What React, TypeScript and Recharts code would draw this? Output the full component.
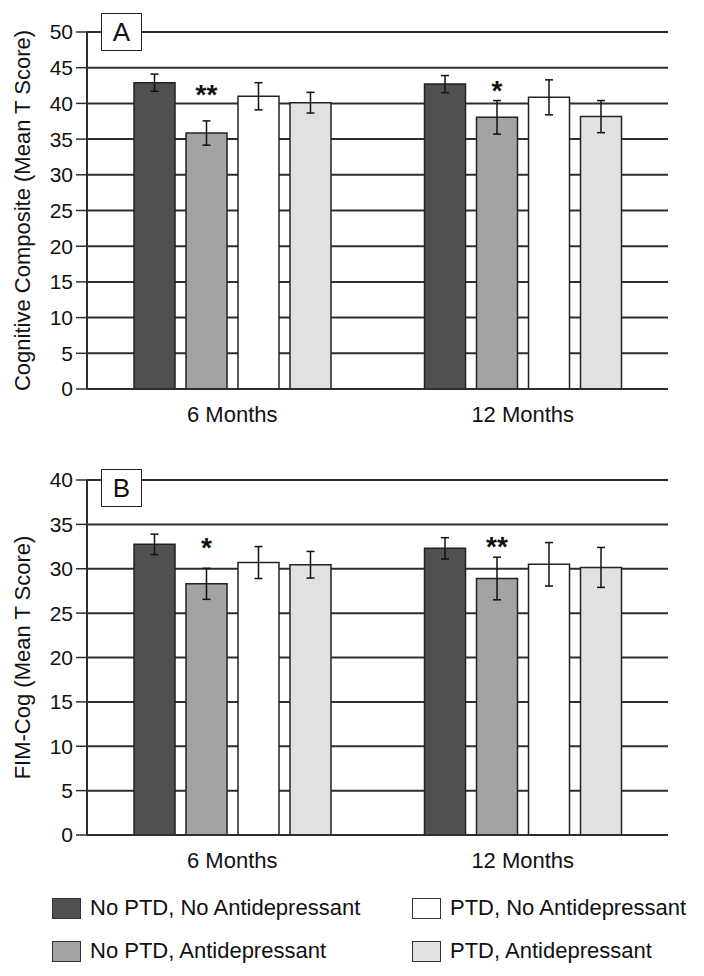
import React from 'react';
import { BarChart, Bar, XAxis, YAxis, CartesianGrid, ErrorBar, LabelList } from 'recharts';

const FONT = '"Liberation Sans", Arial, Helvetica, sans-serif';

const categories = ['6 Months', '12 Months'];
const seriesNames = [
  'No PTD, No Antidepressant',
  'No PTD, Antidepressant',
  'PTD, No Antidepressant',
  'PTD, Antidepressant',
];
const seriesColors = ['#505050', '#a3a3a3', '#ffffff', '#e1e1e1'];

// Panel A: Cognitive Composite (Mean T Score)
const cogNoPtdNoAd = [42.9, 42.7];
const cogNoPtdNoAdErr = [1.2, 1.2];
const cogNoPtdAd = [35.85, 38.05];
const cogNoPtdAdErr = [1.7, 2.35];
const cogPtdNoAd = [41.0, 40.85];
const cogPtdNoAdErr = [1.9, 2.45];
const cogPtdAd = [40.1, 38.15];
const cogPtdAdErr = [1.45, 2.25];
const cogSig = ['**', '*'];
const cogSigLevel = [42.2, 42.7];
const cogTicks = [0, 5, 10, 15, 20, 25, 30, 35, 40, 45, 50];

// Panel B: FIM-Cog (Mean T Score)
const fimNoPtdNoAd = [32.75, 32.3];
const fimNoPtdNoAdErr = [1.15, 1.2];
const fimNoPtdAd = [28.3, 28.9];
const fimNoPtdAdErr = [1.75, 2.4];
const fimPtdNoAd = [30.7, 30.5];
const fimPtdNoAdErr = [1.8, 2.45];
const fimPtdAd = [30.45, 30.15];
const fimPtdAdErr = [1.5, 2.25];
const fimSig = ['*', '**'];
const fimSigLevel = [33.1, 33.25];
const fimTicks = [0, 5, 10, 15, 20, 25, 30, 35, 40];

type Row = {
  cat: string;
  v0: number; e0: number;
  v1: number; e1: number;
  v2: number; e2: number;
  v3: number; e3: number;
  sig: string; sigLevel: number;
};

function buildRows(
  vals: number[][],
  errs: number[][],
  sig: string[],
  sigLevel: number[]
): Row[] {
  return categories.map((cat, i) => ({
    cat,
    v0: vals[0][i], e0: errs[0][i],
    v1: vals[1][i], e1: errs[1][i],
    v2: vals[2][i], e2: errs[2][i],
    v3: vals[3][i], e3: errs[3][i],
    sig: sig[i],
    sigLevel: sigLevel[i],
  }));
}

const rowsA = buildRows(
  [cogNoPtdNoAd, cogNoPtdAd, cogPtdNoAd, cogPtdAd],
  [cogNoPtdNoAdErr, cogNoPtdAdErr, cogPtdNoAdErr, cogPtdAdErr],
  cogSig,
  cogSigLevel
);
const rowsB = buildRows(
  [fimNoPtdNoAd, fimNoPtdAd, fimPtdNoAd, fimPtdAd],
  [fimNoPtdNoAdErr, fimNoPtdAdErr, fimPtdNoAdErr, fimPtdAdErr],
  fimSig,
  fimSigLevel
);

const makeStarLabel = (rows: Row[]) => (props: any) => {
  const vb = props.viewBox || props;
  const x = Number(props.x ?? vb.x);
  const y = Number(props.y ?? vb.y);
  const w = Number(props.width ?? vb.width);
  const h = Number(props.height ?? vb.height);
  const row = rows[props.index];
  if (!row || !row.sig || !isFinite(x) || !isFinite(h) || h === 0) return null;
  const base = y + h;
  const cy = base - (row.sigLevel * h) / row.v1;
  return (
    <text
      x={x + w / 2}
      y={cy + 16}
      textAnchor="middle"
      fontSize={28}
      fontWeight="bold"
      fill="#111"
      fontFamily={FONT}
    >
      {row.sig}
    </text>
  );
};

const makeYTitle = (title: string) => (props: any) => {
  const vb = props.viewBox || {};
  const cy = Number(vb.y) + Number(vb.height) / 2;
  const cx = 22;
  return (
    <text
      x={cx}
      y={cy}
      transform={`rotate(-90 ${cx} ${cy})`}
      textAnchor="middle"
      dominantBaseline="central"
      fontSize={22}
      fill="#111"
      fontFamily={FONT}
    >
      {title}
    </text>
  );
};

function Panel({
  rows,
  ticks,
  yMax,
  title,
  height,
  xAxisHeight,
}: {
  rows: Row[];
  ticks: number[];
  yMax: number;
  title: string;
  height: number;
  xAxisHeight: number;
}) {
  return (
    <BarChart
      width={704}
      height={height}
      data={rows}
      margin={{ top: 32, right: 36, bottom: 0, left: 0 }}
      barSize={41}
      barGap={11}
    >
      <CartesianGrid vertical={false} stroke="#2e2e2e" strokeWidth={2} />
      <XAxis
        dataKey="cat"
        tickLine={false}
        tickSize={0}
        tickMargin={17}
        height={xAxisHeight}
        axisLine={{ stroke: '#2e2e2e', strokeWidth: 2 }}
        tick={{ fontSize: 22, fill: '#111', fontFamily: FONT }}
      />
      <YAxis
        width={87}
        domain={[0, yMax]}
        ticks={ticks}
        interval={0}
        tickSize={11}
        tickMargin={3}
        axisLine={{ stroke: '#2e2e2e', strokeWidth: 2 }}
        tickLine={{ stroke: '#2e2e2e', strokeWidth: 1.5 }}
        tick={{ fontSize: 21, fill: '#111', fontFamily: FONT }}
        label={{ content: makeYTitle(title) } as any}
      />
      {[0, 1, 2, 3].map((k) => (
        <Bar
          key={k}
          dataKey={`v${k}`}
          name={seriesNames[k]}
          fill={seriesColors[k]}
          stroke="#222"
          strokeWidth={1.5}
          isAnimationActive={false}
        >
          <ErrorBar
            dataKey={`e${k}`}
            width={4}
            stroke="#111"
            strokeWidth={1.5}
            direction="y"
          />
          {k === 1 ? <LabelList dataKey="sig" content={makeStarLabel(rows)} /> : null}
        </Bar>
      ))}
    </BarChart>
  );
}

function PanelTag({ letter, top }: { letter: string; top: number }) {
  return (
    <div
      style={{
        position: 'absolute',
        left: 101,
        top,
        width: 41,
        height: 38,
        boxSizing: 'border-box',
        border: '1.5px solid #222',
        background: '#fff',
        display: 'flex',
        alignItems: 'center',
        justifyContent: 'center',
        fontSize: 26,
        color: '#111',
        fontFamily: FONT,
        lineHeight: 1,
      }}
    >
      {letter}
    </div>
  );
}

const legendOrder = [0, 2, 1, 3];

export default function App() {
  return (
    <div
      style={{
        position: 'absolute',
        left: 0,
        top: 0,
        width: 704,
        height: 976,
        background: '#fff',
        fontFamily: FONT,
        overflow: 'hidden',
      }}
    >
      <div style={{ position: 'absolute', left: 0, top: 0 }}>
        <Panel
          rows={rowsA}
          ticks={cogTicks}
          yMax={50}
          title="Cognitive Composite (Mean T Score)"
          height={440}
          xAxisHeight={51}
        />
      </div>
      <div style={{ position: 'absolute', left: 0, top: 448 }}>
        <Panel
          rows={rowsB}
          ticks={fimTicks}
          yMax={40}
          title="FIM-Cog (Mean T Score)"
          height={440}
          xAxisHeight={53}
        />
      </div>
      <PanelTag letter="A" top={13} />
      <PanelTag letter="B" top={469} />
      {legendOrder.map((k, i) => {
        const col = i % 2;
        const row = Math.floor(i / 2);
        const left = col === 0 ? 52 : 412;
        const cy = row === 0 ? 908 : 951;
        return (
          <div
            key={k}
            style={{
              position: 'absolute',
              left,
              top: cy - 14,
              height: 28,
              display: 'flex',
              alignItems: 'center',
              whiteSpace: 'nowrap',
            }}
          >
            <div
              style={{
                width: 29,
                height: 21,
                boxSizing: 'border-box',
                border: '1.5px solid #333',
                background: seriesColors[k],
                marginRight: 9,
              }}
            />
            <span style={{ fontSize: 22, color: '#111', lineHeight: '28px' }}>
              {seriesNames[k]}
            </span>
          </div>
        );
      })}
    </div>
  );
}
